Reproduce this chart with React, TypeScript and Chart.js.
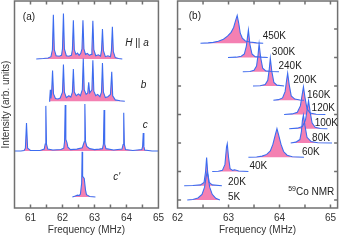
import { useEffect, useRef } from "react";
import { Chart, registerables } from "chart.js";

Chart.register(...registerables);

const BLUE = "#3c6cf0";
const PINK = "#f480b2";
const FRAME = "#707070";
const TEXT = "#222";
const FONT = "'Liberation Sans', Arial, sans-serif";

type Pt = [number, number];

// ---------- Panel (a): orientation dependence (freq MHz, intensity above baseline) ----------
const specHa: Pt[] = [
  [61.18, 0], [61.4, 0.01], [61.55, 0.02], [61.64, 0.05], [61.685, 0.2], [61.715, 0.96], [61.745, 0.2],
  [61.8, 0.07], [61.9, 0.06], [61.97, 0.08], [62.0, 0.22], [62.03, 0.99], [62.06, 0.22], [62.12, 0.07],
  [62.2, 0.06], [62.28, 0.08], [62.31, 0.2], [62.34, 0.84], [62.37, 0.2], [62.42, 0.1], [62.47, 0.13],
  [62.52, 0.08], [62.57, 0.12], [62.61, 0.22], [62.64, 0.84], [62.67, 0.22], [62.72, 0.1], [62.78, 0.12],
  [62.84, 0.08], [62.9, 0.1], [62.92, 0.2], [62.95, 0.83], [62.98, 0.2], [63.04, 0.07], [63.12, 0.09],
  [63.19, 0.06], [63.22, 0.18], [63.25, 0.65], [63.28, 0.18], [63.34, 0.05], [63.42, 0.07], [63.5, 0.05],
  [63.53, 0.18], [63.56, 0.7], [63.59, 0.16], [63.65, 0.03], [63.75, 0.01], [63.87, 0],
];
const specHb: Pt[] = [
  [61.58, 0], [61.6, 0.04], [61.62, 0.25], [61.64, 0.06], [61.66, 0.18], [61.69, 0.67], [61.72, 0.16],
  [61.78, 0.06], [61.86, 0.05], [61.93, 0.07], [62.0, 0.2], [62.03, 0.8], [62.06, 0.2], [62.12, 0.08],
  [62.2, 0.12], [62.26, 0.09], [62.31, 0.2], [62.34, 0.7], [62.37, 0.2], [62.43, 0.12], [62.5, 0.16],
  [62.56, 0.12], [62.62, 0.25], [62.65, 0.93], [62.68, 0.25], [62.74, 0.15], [62.79, 0.18], [62.82, 0.41],
  [62.85, 0.18], [62.92, 0.25], [62.95, 0.89], [62.98, 0.22], [63.04, 0.12], [63.1, 0.15], [63.17, 0.1],
  [63.22, 0.2], [63.25, 0.83], [63.28, 0.2], [63.34, 0.08], [63.42, 0.1], [63.5, 0.15], [63.54, 0.64],
  [63.57, 0.12], [63.65, 0.03], [63.8, 0.01], [63.95, 0],
];
const specHc: Pt[] = [
  [60.5, 0], [60.7, 0], [60.8, 0.01], [60.84, 0.06], [60.875, 0.61], [60.91, 0.06], [61.0, 0.01],
  [61.3, 0.01], [61.43, 0.04], [61.46, 0.15], [61.48, 0.98], [61.5, 0.15], [61.54, 0.04], [61.7, 0.02],
  [61.95, 0.03], [62.04, 0.06], [62.065, 0.2], [62.085, 1.0], [62.105, 0.25], [62.14, 0.18], [62.17, 0.08],
  [62.25, 0.03], [62.45, 0.04], [62.62, 0.07], [62.68, 0.2], [62.7, 1.02], [62.72, 0.2], [62.76, 0.1],
  [62.85, 0.05], [63.0, 0.03], [63.15, 0.04], [63.25, 0.05], [63.28, 0.15], [63.3, 0.89], [63.32, 0.15],
  [63.36, 0.05], [63.6, 0.02], [63.86, 0.04], [63.895, 0.14], [63.915, 0.83], [63.935, 0.14], [63.97, 0.03],
  [64.2, 0.01], [64.48, 0.03], [64.505, 0.1], [64.525, 0.39], [64.545, 0.1], [64.57, 0.02], [64.8, 0], [65, 0],
];
const specHc2: Pt[] = [
  [62.31, 0], [62.4, 0.02], [62.47, 0.04], [62.52, 0.03], [62.56, 0.06], [62.6, 0.3], [62.615, 0.98],
  [62.63, 0.45], [62.68, 0.4], [62.72, 0.15], [62.75, 0.05], [62.85, 0.01], [63.03, 0],
];
const spectraA = [specHa, specHb, specHc, specHc2];
const offsetsA = [3, 2.08, 1, 0];

// ---------- Panel (b): temperature dependence ----------
const temps = ["450K", "300K", "240K", "200K", "160K", "120K", "100K", "80K", "60K", "40K", "20K", "5K"];
const offsetsB = [6.5, 6, 5.5, 5, 4.5, 4, 3.5, 3, 2.5, 2, 1.5, 1];
const spec450: Pt[] = [
  [62.45, 0], [62.6, 0.01], [62.7, 0.03], [62.8, 0.07], [62.9, 0.14], [62.98, 0.25], [63.05, 0.38],
  [63.1, 0.55], [63.14, 0.8], [63.17, 0.97], [63.2, 0.7], [63.23, 0.35], [63.27, 0.18], [63.33, 0.08],
  [63.42, 0.04], [63.55, 0.01], [63.68, 0],
];
const spec300: Pt[] = [
  [62.99, 0], [63.15, 0.01], [63.25, 0.04], [63.31, 0.12], [63.35, 0.4], [63.39, 0.96], [63.42, 0.45],
  [63.46, 0.12], [63.52, 0.03], [63.65, 0.01], [63.77, 0],
];
const spec240: Pt[] = [
  [63.28, 0], [63.42, 0.01], [63.5, 0.05], [63.55, 0.2], [63.58, 0.6], [63.6, 0.97], [63.63, 0.5],
  [63.67, 0.12], [63.73, 0.03], [63.85, 0.01], [63.99, 0],
];
const spec200: Pt[] = [
  [63.48, 0], [63.62, 0.01], [63.72, 0.05], [63.77, 0.2], [63.8, 0.6], [63.82, 0.97], [63.85, 0.5],
  [63.89, 0.12], [63.95, 0.03], [64.09, 0],
];
const spec160: Pt[] = [
  [63.88, 0], [63.98, 0.02], [64.06, 0.08], [64.11, 0.3], [64.14, 0.7], [64.16, 0.95], [64.19, 0.55],
  [64.23, 0.15], [64.3, 0.04], [64.4, 0.01], [64.48, 0],
];
const spec120: Pt[] = [
  [64.09, 0], [64.25, 0.02], [64.35, 0.08], [64.41, 0.3], [64.45, 0.75], [64.47, 0.97], [64.5, 0.6],
  [64.54, 0.2], [64.6, 0.05], [64.72, 0.01], [64.9, 0],
];
const spec100: Pt[] = [
  [64.19, 0], [64.35, 0.02], [64.45, 0.08], [64.51, 0.3], [64.55, 0.75], [64.57, 0.98], [64.6, 0.6],
  [64.64, 0.2], [64.7, 0.05], [64.8, 0.01], [64.94, 0],
];
const spec80: Pt[] = [
  [64.22, 0], [64.32, 0.03], [64.4, 0.12], [64.43, 0.4], [64.45, 0.8], [64.47, 0.98], [64.5, 0.6],
  [64.54, 0.2], [64.62, 0.05], [64.75, 0.01], [65.03, 0],
];
const spec60: Pt[] = [
  [63.39, 0], [63.55, 0.01], [63.66, 0.04], [63.75, 0.1], [63.82, 0.22], [63.87, 0.45], [63.92, 0.8],
  [63.95, 1.0], [63.98, 0.8], [64.03, 0.45], [64.08, 0.2], [64.15, 0.07], [64.25, 0.02], [64.48, 0],
];
const spec40: Pt[] = [
  [62.68, 0], [62.8, 0.01], [62.88, 0.04], [62.93, 0.25], [62.96, 0.85], [62.975, 0.97], [63.0, 0.5],
  [63.03, 0.1], [63.08, 0.04], [63.12, 0.06], [63.2, 0.02], [63.39, 0],
];
const spec20: Pt[] = [
  [62.13, 0], [62.3, 0.01], [62.45, 0.03], [62.52, 0.12], [62.55, 0.5], [62.57, 0.99], [62.59, 0.5],
  [62.62, 0.12], [62.68, 0.03], [62.87, 0],
];
const spec5: Pt[] = [
  [62.19, 0], [62.3, 0.02], [62.4, 0.07], [62.48, 0.2], [62.53, 0.45], [62.56, 0.8], [62.58, 0.98],
  [62.6, 0.8], [62.63, 0.45], [62.68, 0.2], [62.75, 0.06], [62.83, 0],
];
const spectraB = [spec450, spec300, spec240, spec200, spec160, spec120, spec100, spec80, spec60, spec40, spec20, spec5];

// label positions in data units
const tempLabelX = [63.67, 63.85, 63.98, 64.27, 64.54, 64.63, 64.69, 64.64, 64.44, 63.41, 62.99, 62.99];
const tempLabelY = [6.75, 6.2, 5.7, 5.21, 4.68, 4.22, 3.69, 3.17, 2.66, 2.19, 1.61, 1.09];

type Part = { t: string; i?: boolean; s?: number; dy?: number };
type Label = { x: number; y: number; parts: Part[] };

const labelsA: Label[] = [
  { x: 60.76, y: 3.91, parts: [{ t: "(a)" }] },
  { x: 63.96, y: 3.35, parts: [{ t: "H", i: true }, { t: " || " }, { t: "a", i: true }] },
  { x: 64.45, y: 2.43, parts: [{ t: "b", i: true }] },
  { x: 64.51, y: 1.56, parts: [{ t: "c", i: true }] },
  { x: 63.59, y: 0.43, parts: [{ t: "c'", i: true }] },
];
const labelsB: Label[] = [
  { x: 62.22, y: 7.43, parts: [{ t: "(b)" }] },
  { x: 64.17, y: 1.27, parts: [{ t: "59", s: 7, dy: -3 }, { t: "Co NMR" }] },
  ...temps.map((t, k) => ({ x: tempLabelX[k], y: tempLabelY[k], parts: [{ t }] })),
];

const TL = 3.5;

function framePlugin(labels: Label[], yTicks: boolean) {
  return {
    id: "frame",
    afterDraw(chart: any) {
      const { ctx, chartArea: a, scales } = chart;
      const xs = scales.x;
      const ys = scales.y;
      ctx.save();
      ctx.strokeStyle = FRAME;
      ctx.lineWidth = 1.5;
      ctx.strokeRect(a.left, a.top, a.right - a.left, a.bottom - a.top);
      ctx.beginPath();
      xs.ticks.forEach((t: any) => {
        const px = xs.getPixelForValue(t.value);
        if (px <= a.left + 1 || px >= a.right - 1) return;
        ctx.moveTo(px, a.bottom);
        ctx.lineTo(px, a.bottom - TL);
        ctx.moveTo(px, a.top);
        ctx.lineTo(px, a.top + TL);
      });
      if (yTicks) {
        ys.ticks.forEach((t: any) => {
          const py = ys.getPixelForValue(t.value);
          if (py <= a.top + 1 || py >= a.bottom - 1) return;
          ctx.moveTo(a.left, py);
          ctx.lineTo(a.left + TL, py);
          ctx.moveTo(a.right, py);
          ctx.lineTo(a.right - TL, py);
        });
      }
      ctx.stroke();
      ctx.fillStyle = TEXT;
      ctx.textBaseline = "middle";
      ctx.textAlign = "left";
      labels.forEach((l) => {
        let px = xs.getPixelForValue(l.x);
        const py = ys.getPixelForValue(l.y);
        l.parts.forEach((p) => {
          ctx.font = `${p.i ? "italic " : ""}${p.s ?? 10}px ${FONT}`;
          ctx.fillText(p.t, px, py + (p.dy ?? 0));
          px += ctx.measureText(p.t).width;
        });
      });
      ctx.restore();
    },
  };
}

function makeDatasets(spectra: Pt[][], offsets: number[]) {
  return spectra.map((s, k) => ({
    data: s.map(([x, y]) => ({ x, y: y + offsets[k] })),
    borderColor: BLUE,
    backgroundColor: PINK,
    borderWidth: 1.1,
    pointRadius: 0,
    tension: 0,
    fill: { value: offsets[k] },
  }));
}

const intTick = (v: any) => (Math.abs(v - Math.round(v)) < 1e-6 ? String(Math.round(v)) : "");

function buildConfig(
  spectra: Pt[][], offsets: number[], xmin: number, xmax: number, ymin: number, ymax: number,
  leftW: number, rightPad: number, labels: Label[], yTicks: boolean, yTitle: string | null
): any {
  return {
    type: "line",
    data: { datasets: makeDatasets(spectra, offsets) },
    options: {
      animation: false,
      responsive: false,
      devicePixelRatio: 1,
      layout: { padding: { top: 1, right: rightPad, left: 0, bottom: 0 } },
      plugins: {
        legend: { display: false },
        tooltip: { enabled: false },
        filler: { drawTime: "beforeDatasetsDraw" },
      },
      scales: {
        x: {
          type: "linear",
          position: "bottom",
          min: xmin,
          max: xmax,
          grid: { display: false, drawTicks: false },
          border: { display: false },
          ticks: {
            stepSize: 0.5,
            includeBounds: false,
            autoSkip: false,
            maxRotation: 0,
            padding: 4,
            color: "#333",
            font: { size: 10, family: FONT },
            callback: intTick,
          },
          title: {
            display: true,
            text: "Frequency (MHz)",
            color: "#333",
            font: { size: 10, family: FONT },
            padding: { top: 0, bottom: 4 },
          },
          afterFit: (s: any) => { s.height = 32; },
        },
        y: {
          type: "linear",
          position: "left",
          min: ymin,
          max: ymax,
          grid: { display: false, drawTicks: false },
          border: { display: false },
          ticks: { display: false, stepSize: 1, includeBounds: false },
          title: {
            display: !!yTitle,
            text: yTitle ?? "",
            color: "#333",
            font: { size: 10, family: FONT },
            padding: { top: 0, bottom: 0 },
          },
          afterFit: (s: any) => { s.width = leftW; },
        },
      },
    },
    plugins: [framePlugin(labels, yTicks)],
  };
}

export default function App() {
  const refA = useRef<HTMLCanvasElement>(null);
  const refB = useRef<HTMLCanvasElement>(null);
  useEffect(() => {
    Chart.defaults.font.family = FONT;
    const a = new Chart(
      refA.current!,
      buildConfig(spectraA, offsetsA, 60.5, 65, -0.24, 4.26, 14.5, 7, labelsA, false, "Intensity (arb. units)")
    );
    const b = new Chart(
      refB.current!,
      buildConfig(spectraB, offsetsB, 62, 65.14, 0.72, 7.98, 7, 2, labelsB, true, null)
    );
    return () => { a.destroy(); b.destroy(); };
  }, []);
  return (
    <div style={{ position: "fixed", left: 0, top: 0, width: 340, height: 240, background: "#fff" }}>
      <canvas ref={refA} width={168} height={240} style={{ position: "absolute", left: 0, top: 0 }} />
      <canvas ref={refB} width={172} height={240} style={{ position: "absolute", left: 168, top: 0 }} />
    </div>
  );
}
